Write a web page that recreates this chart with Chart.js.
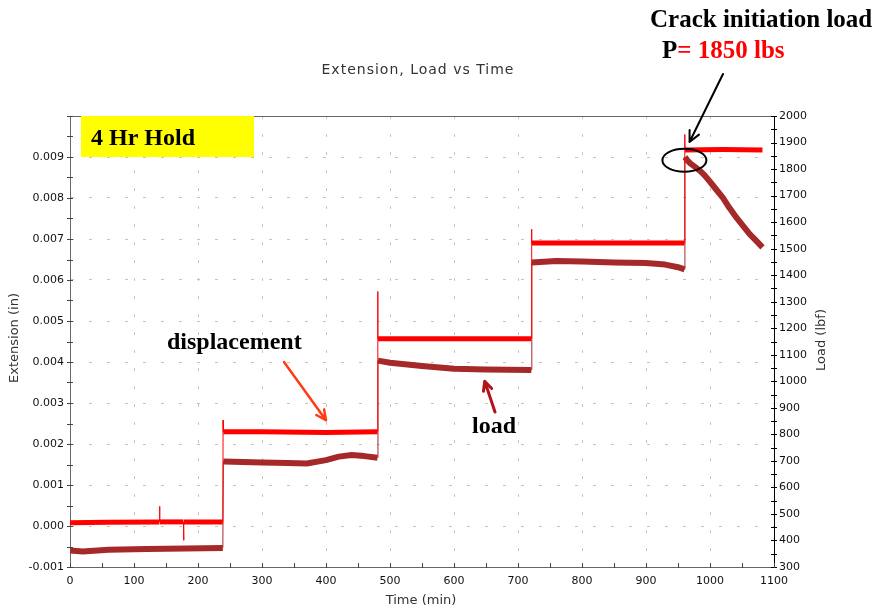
<!DOCTYPE html>
<html>
<head>
<meta charset="utf-8">
<title>Extension, Load vs Time</title>
<script src="https://cdn.jsdelivr.net/npm/chart.js@4.4.1/dist/chart.umd.min.js"></script>
<style>
  body { margin: 0; background: #fff; }
  #wrap { position: relative; width: 875px; height: 611px; }
</style>
</head>
<body>
<div id="wrap"><canvas id="chart"></canvas></div>
<script>
// extension (in) against time (min); the near-vertical runs are the spikes at each load step
var extTime  = [0, 60, 139.6, 140, 140.4, 177.2, 177.6, 178, 238.8, 239.2, 239.6, 300, 400, 480.4, 480.8, 481.2, 600, 720.8, 721.2, 721.6, 850, 960.2, 960.6, 961.0, 1020, 1082];
var extValue = [0.00008, 0.00009, 0.0001, 0.00048, 0.0001, 0.0001, -0.00035, 0.0001, 0.0001, 0.00258, 0.0023, 0.0023, 0.00228, 0.0023, 0.00572, 0.00457, 0.00457, 0.00457, 0.00724, 0.0069, 0.0069, 0.0069, 0.00955, 0.00917, 0.00918, 0.00917];

// load (lbf) against time (min)
var loadTime  = [0, 20, 60, 120, 180, 238.8, 239.6, 300, 340, 370, 400, 420, 440, 460, 480.4, 481.2, 500, 550, 600, 650, 720.8, 721.6, 760, 800, 850, 900, 930, 950, 960.2, 960.8, 965, 970, 978, 985, 992, 1000, 1010, 1020, 1030, 1042, 1052, 1062, 1072, 1082];
var loadValue = [362, 358, 365, 368, 370, 372, 698, 694, 692, 690, 703, 716, 722, 718, 712, 1078, 1070, 1058, 1047, 1044, 1043, 1448, 1453, 1452, 1448, 1446, 1440, 1430, 1422, 1845, 1832, 1820, 1805, 1792, 1775, 1752, 1722, 1692, 1655, 1615, 1585, 1555, 1530, 1505];

// axis ranges: [min, max, major step, minor step]
var timeAxis = [0, 1100, 100, 50];
var extAxis  = [-0.001, 0.010, 0.001, 0.0005];
var loadAxis = [300, 2000, 100, 50];

function pairs(xs, ys) {
  return xs.map(function (x, i) { return {x: x, y: ys[i]}; });
}

// thin 1px for the vertical step/spike runs, thick band elsewhere
function stepWidth(thick) {
  return function (c) {
    return Math.abs(c.p1.parsed.x - c.p0.parsed.x) < 1 ? 1 : thick;
  };
}

function plain(v) { return String(Math.round(v)); }

var FONT = '"DejaVu Sans", Verdana, sans-serif';
var SERIF = '"Liberation Serif", "Times New Roman", serif';

function arrow(ctx, x0, y0, x1, y1, color, width, head) {
  var ang = Math.atan2(y1 - y0, x1 - x0);
  ctx.strokeStyle = color;
  ctx.lineWidth = width;
  ctx.lineCap = 'round';
  ctx.lineJoin = 'round';
  ctx.beginPath();
  ctx.moveTo(x0, y0);
  ctx.lineTo(x1, y1);
  ctx.moveTo(x1 - head * Math.cos(ang - 0.45), y1 - head * Math.sin(ang - 0.45));
  ctx.lineTo(x1, y1);
  ctx.lineTo(x1 - head * Math.cos(ang + 0.45), y1 - head * Math.sin(ang + 0.45));
  ctx.stroke();
}

function tickMarks(ctx, scale, range, vertical, pos, a, b) {
  var n = Math.round((range[1] - range[0]) / range[3]);
  ctx.beginPath();
  for (var i = 0; i <= n; i++) {
    var p = Math.round(scale.getPixelForValue(range[0] + i * range[3])) + 0.5;
    if (vertical) { ctx.moveTo(pos + a, p); ctx.lineTo(pos + b, p); }
    else { ctx.moveTo(p, pos + a); ctx.lineTo(p, pos + b); }
  }
  ctx.stroke();
}

var decorations = {
  id: 'decorations',
  afterDraw: function (chart) {
    var ctx = chart.ctx, area = chart.chartArea;
    var sx = chart.scales.x, sy = chart.scales.y, sl = chart.scales.load;
    ctx.save();

    // top frame line
    ctx.strokeStyle = '#666';
    ctx.lineWidth = 1;
    ctx.beginPath();
    ctx.moveTo(area.left, Math.round(area.top) + 0.5);
    ctx.lineTo(area.right, Math.round(area.top) + 0.5);
    ctx.stroke();

    // tick marks straddling the axes
    ctx.strokeStyle = '#444';
    tickMarks(ctx, sy, extAxis, true, area.left, -3, 3);
    ctx.strokeStyle = '#000';
    tickMarks(ctx, sl, loadAxis, true, area.right, -3, 3);
    ctx.strokeStyle = '#444';
    tickMarks(ctx, sx, timeAxis, false, area.bottom, -4, 1);

    // titles
    ctx.fillStyle = '#333';
    ctx.textAlign = 'center';
    ctx.textBaseline = 'middle';
    ctx.font = '14px ' + FONT;
    ctx.letterSpacing = '1px';
    ctx.fillText('Extension, Load vs Time', 418, 70);
    ctx.letterSpacing = '0px';
    ctx.font = '13px ' + FONT;
    ctx.fillText('Time (min)', 421, 601);
    ctx.save();
    ctx.translate(15, 338);
    ctx.rotate(-Math.PI / 2);
    ctx.fillText('Extension (in)', 0, 0);
    ctx.restore();
    ctx.save();
    ctx.translate(822, 340);
    ctx.rotate(-Math.PI / 2);
    ctx.fillText('Load (lbf)', 0, 0);
    ctx.restore();

    // hold label
    ctx.fillStyle = '#ffff00';
    ctx.fillRect(81, Math.round(area.top), 173, 41);
    ctx.fillStyle = '#000';
    ctx.textAlign = 'left';
    ctx.textBaseline = 'alphabetic';
    ctx.font = 'bold 24px ' + SERIF;
    ctx.fillText('4 Hr Hold', 91, 145);

    // crack initiation note
    ctx.font = 'bold 25px ' + SERIF;
    ctx.fillText('Crack initiation load', 650, 27);
    ctx.fillText('P', 662, 58);
    var pw = ctx.measureText('P').width;
    ctx.fillStyle = '#ff0000';
    ctx.fillText('= 1850 lbs', 662 + pw, 58);

    ctx.beginPath();
    ctx.ellipse(sx.getPixelForValue(960), sl.getPixelForValue(1833), 22, 11.5, 0, 0, Math.PI * 2);
    ctx.strokeStyle = '#000';
    ctx.lineWidth = 2;
    ctx.stroke();
    arrow(ctx, 723, 74, sx.getPixelForValue(968), sl.getPixelForValue(1902), '#000', 2, 12);

    // series call-outs
    ctx.fillStyle = '#000';
    ctx.font = 'bold 24px ' + SERIF;
    ctx.fillText('displacement', 167, 349);
    ctx.fillText('load', 472, 433);
    arrow(ctx, 284, 362, sx.getPixelForValue(400), sy.getPixelForValue(0.00258), '#ff3b14', 2.5, 11);
    arrow(ctx, 495, 412, sx.getPixelForValue(648), sl.getPixelForValue(1000), '#b3141c', 3, 10);

    ctx.restore();
  }
};

new Chart(document.getElementById('chart'), {
  type: 'line',
  data: {
    datasets: [{
      label: 'Extension',
      data: pairs(extTime, extValue),
      yAxisID: 'y',
      borderColor: '#ff0000',
      borderWidth: 5,
      pointRadius: 0,
      tension: 0,
      segment: { borderWidth: stepWidth(5) }
    }, {
      label: 'Load',
      data: pairs(loadTime, loadValue),
      yAxisID: 'load',
      borderColor: '#a62929',
      borderWidth: 6,
      pointRadius: 0,
      tension: 0,
      borderJoinStyle: 'round',
      segment: { borderWidth: stepWidth(6) }
    }]
  },
  options: {
    responsive: true,
    maintainAspectRatio: false,
    animation: false,
    layout: { padding: { top: 116, left: 0, right: 0, bottom: 0 } },
    plugins: {
      legend: { display: false },
      title: { display: false },
      tooltip: { enabled: false }
    },
    scales: {
      x: {
        type: 'linear',
        position: 'bottom',
        min: timeAxis[0],
        max: timeAxis[1],
        afterFit: function (s) { s.height = 44; },
        ticks: {
          stepSize: timeAxis[2],
          padding: 8,
          maxRotation: 0,
          color: '#111',
          font: { family: FONT, size: 11 },
          callback: plain
        },
        grid: { color: '#c8c4b0', drawTicks: false },
        border: { color: '#666', dash: [3, 15] }
      },
      y: {
        type: 'linear',
        position: 'left',
        min: extAxis[0],
        max: extAxis[1],
        afterFit: function (s) { s.width = 70; },
        ticks: {
          stepSize: extAxis[2],
          padding: 6,
          color: '#111',
          font: { family: FONT, size: 11 },
          callback: function (v) { return v > 0.0095 ? '' : v.toFixed(3); }
        },
        grid: { color: '#c8c4b0', drawTicks: false },
        border: { color: '#666', dash: [3, 15] }
      },
      load: {
        type: 'linear',
        position: 'right',
        min: loadAxis[0],
        max: loadAxis[1],
        afterFit: function (s) { s.width = 101; },
        ticks: {
          stepSize: loadAxis[2],
          padding: 5,
          color: '#111',
          font: { family: FONT, size: 11 },
          callback: plain
        },
        grid: { display: false, drawTicks: false },
        border: { color: '#000' }
      }
    }
  },
  plugins: [decorations]
});
</script>
</body>
</html>
